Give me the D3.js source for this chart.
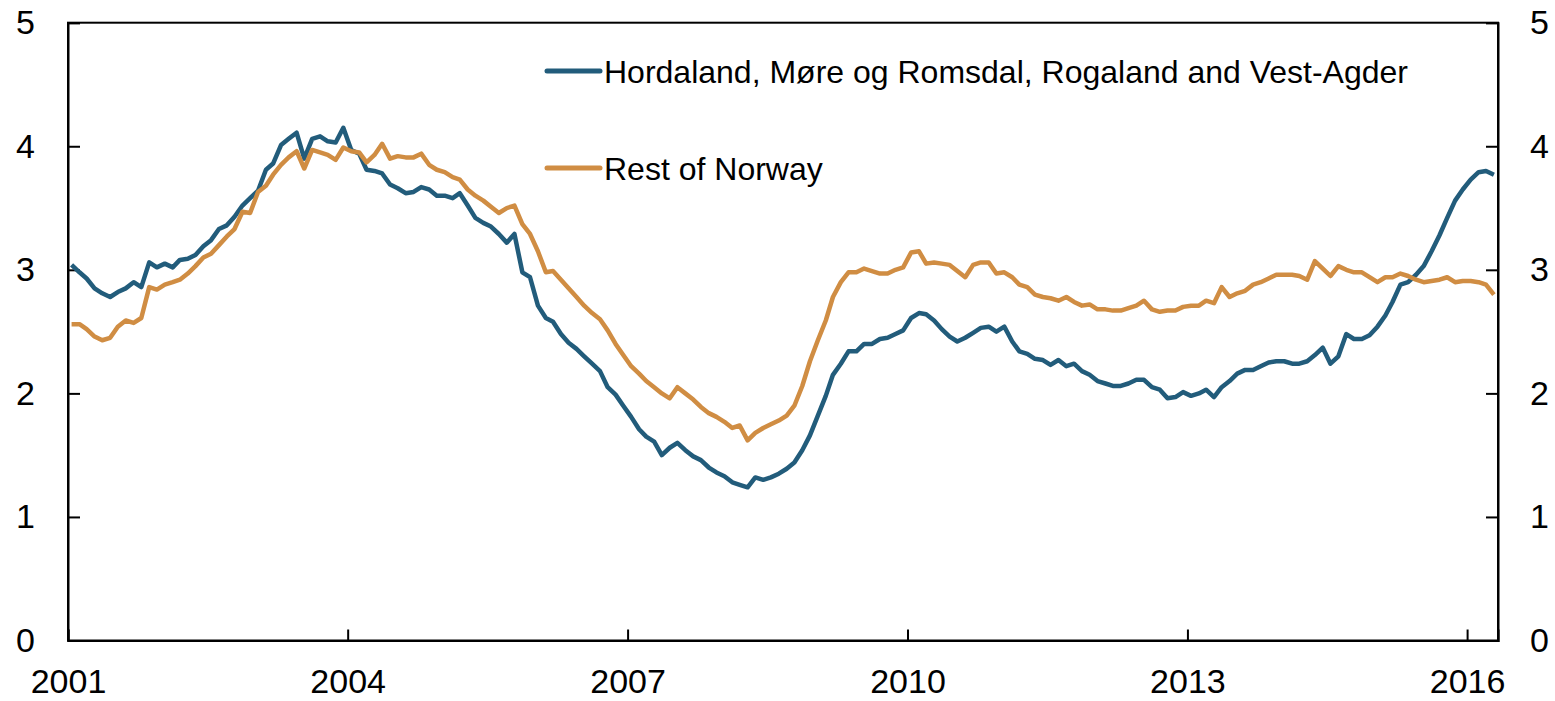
<!DOCTYPE html>
<html>
	<head>
		<meta charset="utf-8">
		<style type="text/css">
			body { margin: 0; background: #fff; font-family: "Liberation Sans", Arial, sans-serif; }
			svg { display: block; }
		</style>
		<title>House price growth</title>
	</head>
	<body>
		<div id="chart"></div>

		<script src="https://cdn.jsdelivr.net/npm/d3@7/dist/d3.min.js"></script>
		<script>

		// monthly series, first value is January 2001
		var startYear = 2001;
		var yearTicks = [2001, 2004, 2007, 2010, 2013, 2016];
		var valueTicks = [0, 1, 2, 3, 4, 5];
		var seriesNames = ["Hordaland, Møre og Romsdal, Rogaland and Vest-Agder", "Rest of Norway"];

		var westValues = [
			3.04, 2.98, 2.93, 2.85, 2.81, 2.78, 2.82, 2.85, 2.90, 2.86, 3.06, 3.02,
			3.05, 3.02, 3.08, 3.09, 3.12, 3.19, 3.24, 3.33, 3.36, 3.43, 3.52, 3.58,
			3.64, 3.81, 3.86, 4.01, 4.06, 4.11, 3.90, 4.06, 4.08, 4.04, 4.03, 4.15,
			3.97, 3.94, 3.81, 3.80, 3.78, 3.69, 3.66, 3.62, 3.63, 3.67, 3.65, 3.60,
			3.60, 3.58, 3.62, 3.52, 3.42, 3.38, 3.35, 3.29, 3.22, 3.29, 2.98, 2.94,
			2.71, 2.61, 2.58, 2.48, 2.41, 2.36, 2.30, 2.24, 2.18, 2.05, 1.99, 1.90,
			1.81, 1.71, 1.65, 1.61, 1.50, 1.56, 1.60, 1.54, 1.49, 1.46, 1.40, 1.36,
			1.33, 1.28, 1.26, 1.24, 1.32, 1.30, 1.32, 1.35, 1.39, 1.44, 1.54, 1.66,
			1.82, 1.98, 2.15, 2.24, 2.34, 2.34, 2.40, 2.40, 2.44, 2.45, 2.48, 2.51,
			2.61, 2.65, 2.64, 2.59, 2.52, 2.46, 2.42, 2.45, 2.49, 2.53, 2.54, 2.50,
			2.54, 2.42, 2.34, 2.32, 2.28, 2.27, 2.23, 2.27, 2.22, 2.24, 2.18, 2.15,
			2.10, 2.08, 2.06, 2.06, 2.08, 2.11, 2.11, 2.05, 2.03, 1.96, 1.97, 2.01,
			1.98, 2.00, 2.03, 1.97, 2.05, 2.10, 2.16, 2.19, 2.19, 2.22, 2.25, 2.26,
			2.26, 2.24, 2.24, 2.26, 2.31, 2.37, 2.24, 2.30, 2.48, 2.44, 2.44, 2.47,
			2.54, 2.63, 2.74, 2.88, 2.90, 2.96, 3.03, 3.15, 3.28, 3.42, 3.56, 3.65,
			3.73, 3.79, 3.80, 3.77
		];

		var restValues = [
			2.56, 2.56, 2.52, 2.46, 2.43, 2.45, 2.54, 2.59, 2.57, 2.61, 2.86, 2.84,
			2.88, 2.90, 2.92, 2.97, 3.03, 3.10, 3.13, 3.20, 3.27, 3.33, 3.47, 3.46,
			3.63, 3.68, 3.77, 3.85, 3.91, 3.96, 3.82, 3.97, 3.95, 3.93, 3.89, 3.99,
			3.96, 3.95, 3.87, 3.93, 4.02, 3.90, 3.92, 3.91, 3.91, 3.94, 3.85, 3.81,
			3.79, 3.75, 3.73, 3.65, 3.60, 3.56, 3.51, 3.46, 3.50, 3.52, 3.37, 3.29,
			3.15, 2.98, 2.99, 2.92, 2.85, 2.78, 2.71, 2.65, 2.60, 2.51, 2.40, 2.31,
			2.22, 2.16, 2.10, 2.05, 2.00, 1.96, 2.05, 2.00, 1.95, 1.89, 1.84, 1.81,
			1.77, 1.72, 1.74, 1.62, 1.68, 1.72, 1.75, 1.78, 1.82, 1.90, 2.06, 2.26,
			2.43, 2.59, 2.78, 2.90, 2.98, 2.98, 3.01, 2.99, 2.97, 2.97, 3.00, 3.02,
			3.14, 3.15, 3.05, 3.06, 3.05, 3.04, 2.99, 2.94, 3.04, 3.06, 3.06, 2.97,
			2.98, 2.94, 2.88, 2.86, 2.80, 2.78, 2.77, 2.75, 2.78, 2.74, 2.71, 2.72,
			2.68, 2.68, 2.67, 2.67, 2.69, 2.71, 2.75, 2.68, 2.66, 2.67, 2.67, 2.70,
			2.71, 2.71, 2.75, 2.73, 2.86, 2.78, 2.81, 2.83, 2.88, 2.90, 2.93, 2.96,
			2.96, 2.96, 2.95, 2.92, 3.07, 3.01, 2.95, 3.03, 3.00, 2.98, 2.98, 2.94,
			2.90, 2.94, 2.94, 2.97, 2.95, 2.92, 2.90, 2.91, 2.92, 2.94, 2.90, 2.91,
			2.91, 2.90, 2.88, 2.80
		];

		var colors = ["#225c7b", "#d08d43"];

		var width = 1555;
		var height = 701;
		var margin = {left: 68, right: 57, top: 22.7, bottom: 60.5};

		var lastMonth = westValues.length;
		var x = d3.scaleTime()
			.domain([new Date(startYear, 0, 1), new Date(startYear, lastMonth, 1)])
			.range([margin.left, width - margin.right]);

		var y = d3.scaleLinear()
			.domain([0, 5])
			.range([height - margin.bottom, margin.top]);

		var svg = d3.select("#chart").append("svg")
			.attr("width", width)
			.attr("height", height);

		// points sit in the middle of each month
		function toPoints(values) {
			return values.map(function(v, i) {
				return {date: new Date(startYear, i, 15), value: v};
			});
		}

		var line = d3.line()
			.x(function(d) { return x(d.date); })
			.y(function(d) { return y(d.value); });

		// frame
		svg.append("rect")
			.attr("x", margin.left)
			.attr("y", margin.top)
			.attr("width", width - margin.right - margin.left)
			.attr("height", height - margin.bottom - margin.top)
			.attr("fill", "none")
			.attr("stroke", "#000")
			.attr("stroke-width", 2);

		var fontSize = "34px";

		var xAxis = d3.axisBottom(x)
			.tickValues(yearTicks.map(function(yr) { return new Date(yr, 0, 1); }))
			.tickFormat(d3.timeFormat("%Y"))
			.tickSize(-11)
			.tickPadding(28);

		var leftAxis = d3.axisLeft(y)
			.tickValues(valueTicks)
			.tickFormat(d3.format("d"))
			.tickSize(-12)
			.tickPadding(33);

		var rightAxis = d3.axisRight(y)
			.tickValues(valueTicks)
			.tickFormat(d3.format("d"))
			.tickSize(-12)
			.tickPadding(32);

		var gx = svg.append("g")
			.attr("transform", "translate(0," + (height - margin.bottom) + ")")
			.call(xAxis);
		var gl = svg.append("g")
			.attr("transform", "translate(" + margin.left + ",0)")
			.call(leftAxis);
		var gr = svg.append("g")
			.attr("transform", "translate(" + (width - margin.right) + ",0)")
			.call(rightAxis);

		[gx, gl, gr].forEach(function(g) {
			g.select(".domain").attr("stroke-width", 2);
			g.selectAll(".tick line").attr("stroke-width", 2);
			g.selectAll(".tick text")
				.attr("font-size", fontSize)
				.attr("font-family", "Liberation Sans, Arial, sans-serif")
				.attr("fill", "#000");
		});

		// series lines
		var allSeries = [westValues, restValues];
		svg.selectAll("path.series")
			.data(allSeries)
			.enter()
			.append("path")
				.attr("class", "series")
				.attr("d", function(d) { return line(toPoints(d)); })
				.attr("fill", "none")
				.attr("stroke", function(d, i) { return colors[i]; })
				.attr("stroke-width", 4.5)
				.attr("stroke-linejoin", "round");

		// legend
		var legendY = [71, 168];
		var legend = svg.selectAll("g.legend")
			.data(seriesNames)
			.enter()
			.append("g")
				.attr("class", "legend")
				.attr("transform", function(d, i) { return "translate(547," + legendY[i] + ")"; });

		legend.append("line")
			.attr("x1", 0)
			.attr("x2", 53)
			.attr("stroke", function(d, i) { return colors[i]; })
			.attr("stroke-width", 5)
			.attr("stroke-linecap", "round");

		legend.append("text")
			.attr("x", 57)
			.attr("dy", "0.36em")
			.attr("font-size", "32px")
			.attr("fill", "#000")
			.text(function(d) { return d; });

		</script>
	</body>
</html>
